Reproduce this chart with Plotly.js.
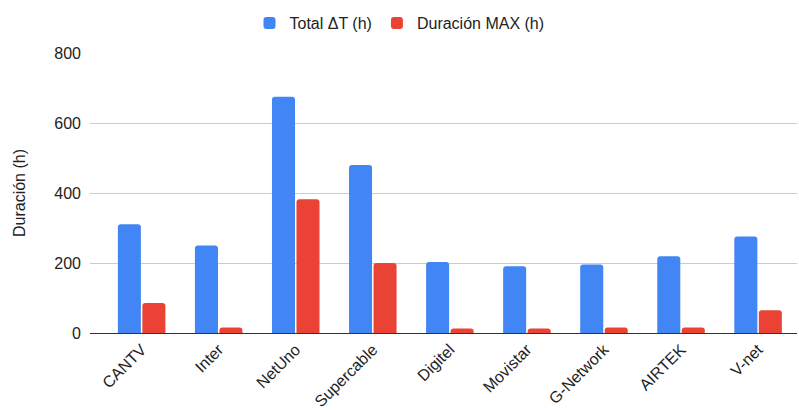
<!DOCTYPE html>
<html><head><meta charset="utf-8">
<script src="https://cdn.plot.ly/plotly-3.0.1.min.js"></script>
<style>html,body{margin:0;padding:0;background:#fff}#chart{width:799px;height:410px}</style>
</head><body><div id="chart"></div>
<script>
const categories = ["CANTV","Inter","NetUno","Supercable","Digitel","Movistar","G-Network","AIRTEK","V-net"];
const totalDT = [311, 250, 675, 480, 203, 191, 196, 219, 276];
const durMax = [86, 16, 382, 200, 13, 13, 16, 16, 65];
const yTicks = [0, 200, 400, 600, 800];

const fam = "'Liberation Sans', Arial, sans-serif";
const txt = "#222222";
const data = [
  {type: "bar", name: "Total ΔT (h)", x: categories, y: totalDT, marker: {color: "#4285F4", cornerradius: 3}},
  {type: "bar", name: "Duración MAX (h)", x: categories, y: durMax, marker: {color: "#EA4335", cornerradius: 3}}
];
const layout = {
  width: 799, height: 410,
  margin: {l: 90, r: 2, t: 53, b: 77},
  font: {family: fam, color: txt, size: 16},
  barmode: "group", bargap: 0.364, bargroupgap: 0.06,
  showlegend: true,
  legend: {orientation: "h", x: 0.5, xref: "container", xanchor: "center", y: 0.985, yref: "container", yanchor: "top",
           font: {family: fam, size: 16, color: txt}, itemwidth: 30},
  xaxis: {range: [-0.67, 8.505], tickangle: -45, showline: true, linecolor: "#333", linewidth: 1, ticks: "",
          tickfont: {family: fam, size: 16, color: txt}, fixedrange: true},
  yaxis: {range: [0, 800], tickvals: yTicks, ticktext: yTicks.map(String), gridcolor: "#cccccc", zeroline: false,
          tickfont: {family: fam, size: 16, color: txt}, ticklabelstandoff: 8,
          title: {text: "Duración (h)", font: {family: fam, size: 16, color: txt}, standoff: 24}},
  plot_bgcolor: "#fff", paper_bgcolor: "#fff"
};
Plotly.newPlot("chart", data, layout, {displayModeBar: false, staticPlot: true});
</script></body></html>
